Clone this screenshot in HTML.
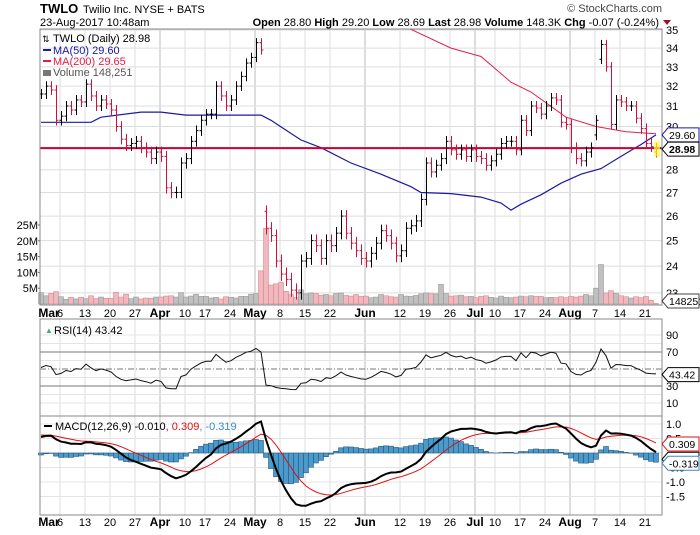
<!DOCTYPE html>
<html><head><meta charset="utf-8"><style>
body{margin:0;background:#fff;width:700px;height:530px;overflow:hidden;font-family:"Liberation Sans",sans-serif}
svg text{font-family:"Liberation Sans",sans-serif}
</style></head><body>
<svg id="c" width="700" height="530" xmlns="http://www.w3.org/2000/svg"></svg>
<script>
// ---- data ----
const closes=[31.6,32.0,31.8,30.3,30.5,31.0,30.8,31.3,31.2,32.1,
31.5,31.0,31.3,31.1,30.8,30.0,29.4,29.1,29.2,29.3,
29.0,28.8,28.5,28.8,28.6,27.2,27.0,27.0,28.3,28.5,
29.3,29.8,30.3,30.6,30.6,32.0,31.5,31.0,31.3,32.0,
32.5,33.2,33.5,34.3,33.9,25.5,25.2,24.2,23.7,23.5,
23.1,23.0,24.2,24.3,25.0,24.8,24.3,25.0,24.8,25.3,
26.0,25.3,24.9,24.6,24.3,24.2,24.5,24.9,25.4,25.2,
24.9,24.4,24.6,25.5,25.6,25.8,26.7,28.3,27.9,28.2,
28.5,29.3,28.9,28.7,28.9,28.6,28.9,28.6,28.5,28.2,
28.4,28.7,29.2,29.3,29.3,28.9,30.3,29.8,31.0,30.9,
30.6,31.0,31.4,31.3,30.2,30.1,29.0,28.5,28.4,28.8,
29.0,30.3,34.2,33.0,30.1,31.3,31.2,31.0,31.0,30.4,
29.9,29.2,29.05,28.98];
const gapOpens={45:26.2,111:29.6,112:33.4,123:28.80};
const volumes=[3.6,2.6,3.3,3.9,2.3,1.5,2.1,1.6,2.1,1.7,
2.6,1.7,2.2,1.8,1.8,3.7,2.2,3.1,1.7,2.2,
1.6,1.9,1.8,2.2,2.2,2.5,2.6,2.2,3.6,2.2,
2.5,3.1,2.4,2.4,1.9,2.1,1.6,2.3,2.1,1.9,
2.4,2.4,3.1,3.3,10.5,24.0,6.0,6.4,6.8,4.0,
3.0,2.0,4.5,3.2,3.5,3.3,2.8,3.0,2.6,3.3,
3.5,2.7,2.5,3.0,2.4,2.5,2.0,2.2,3.0,2.6,
2.3,2.2,3.0,2.5,2.4,2.7,3.2,3.5,3.3,3.2,
6.2,3.3,2.5,2.6,2.8,2.3,2.4,2.0,2.4,2.6,
2.1,1.9,2.5,2.1,2.0,2.2,2.5,2.3,2.6,2.4,
2.4,2.0,2.1,2.0,2.3,2.0,2.4,2.2,2.5,3.0,
2.6,5.0,12.5,3.5,4.2,3.4,2.6,2.3,1.9,2.3,
2.0,2.4,1.2,0.15];
const ma50Idx=[0,10,12,20,24,29,38,44,46,52,56,62,68,74,76,82,88,92,94,96,100,104,108,112,116,120,123];
const ma50Val=[30.2,30.2,30.45,30.7,30.7,30.55,30.55,30.55,30.3,29.36,29.0,28.3,27.8,27.25,27.0,26.95,26.8,26.55,26.25,26.5,26.9,27.4,27.8,28.05,28.6,29.15,29.6];
const ma200Idx=[72,82,88,94,98,105,111,117,123];
const ma200Val=[35.3,34.0,33.55,32.2,31.7,30.45,30.0,29.75,29.65];
const priceTicks=[35,34,33,32,31,30,28,27,26,25,24,23];
const volTicks=[25,20,15,10,5];
const rsiTicks=[90,70,30,10];
const macdTicks=[1.0,0.5,-0.5,-1.0,-1.5];
const axisLabels=[[0.6,'Mar',1],[4,'6',0],[9,'13',0],[14,'20',0],[19,'27',0],[24,'Apr',1],[29,'10',0],[33,'17',0],[38,'24',0],[43,'May',1],[48,'8',0],[53,'15',0],[58,'22',0],[65,'Jun',1],[72,'12',0],[77,'19',0],[82,'26',0],[87,'Jul',1],[91,'10',0],[96,'17',0],[101,'24',0],[106,'Aug',1],[111,'7',0],[116,'14',0],[121,'21',0]];

// ---- scales ----
const L=40,R=662;
const X=i=>41+5*i;
const PY=p=>30+(Math.log(35)-Math.log(p))*626;
const VY=v=>304-v*3.16;
const RY=r=>369-(r-50)*0.85;
const MY=m=>453-m*29;
const svg=document.getElementById('c');
const NS='http://www.w3.org/2000/svg';
function el(tag,attrs,parent){const e=document.createElementNS(NS,tag);for(const k in attrs)e.setAttribute(k,attrs[k]);(parent||svg).appendChild(e);return e;}
function txt(x,y,s,attrs,parent){const t=el('text',Object.assign({x:x,y:y,'font-size':11,fill:'#000'},attrs||{}),parent);t.textContent=s;return t;}

const defs=el('defs',{});
const cp=el('clipPath',{id:'mainclip'},defs);
el('rect',{x:L,y:29,width:R-L,height:276},cp);

// ---- grids ----
const grid=el('g',{});


[[29,305],[319,416],[416,515]].forEach(([t,b])=>{
  axisLabels.forEach(a=>{ if(a[0]<1)return; el('line',{x1:X(a[0])-1,x2:X(a[0])-1,y1:t,y2:b,stroke:a[2]?'#bbb':'#ddd','stroke-width':1},grid);});
});
priceTicks.concat([29]).forEach(p=>el('line',{x1:L,x2:R,y1:PY(p),y2:PY(p),stroke:'#ddd'},grid));
[90,80,60,40,20,10].forEach(r=>el('line',{x1:L,x2:R,y1:RY(r),y2:RY(r),stroke:'#e4e4e4'},grid));
[1.0,0.5,0,-0.5,-1.0,-1.5].forEach(m=>el('line',{x1:L,x2:R,y1:MY(m),y2:MY(m),stroke:'#e4e4e4'},grid));

// ---- header ----
const hdr=el('g',{});


txt(40,13,'TWLO',{'font-size':13,'font-weight':'bold'},hdr);
txt(83,13,'Twilio Inc. NYSE + BATS',{'font-size':11},hdr);
txt(40,26,'23-Aug-2017 10:48am',{'font-size':11},hdr);
const info=txt(659,26,'',{'font-size':11,'text-anchor':'end'},hdr);
info.innerHTML='<tspan font-weight="bold">Open</tspan> 28.80 <tspan font-weight="bold">High</tspan> 29.20 <tspan font-weight="bold">Low</tspan> 28.69 <tspan font-weight="bold">Last</tspan> 28.98 <tspan font-weight="bold">Volume</tspan> 148.3K <tspan font-weight="bold">Chg</tspan> -0.07 (-0.24%)';
el('path',{d:'M663,20 L671,20 L667,25 Z',fill:'#a0102a'},hdr);
txt(662,12,'© StockCharts.com',{'font-size':11,'text-anchor':'end',fill:'#444'},hdr);

// ---- volume ----
const vg=el('g',{});


volumes.forEach((v,i)=>{
  const down=i>0&&closes[i]<closes[i-1];
  const r=el('rect',{x:X(i)-2.5,y:VY(v),width:5,height:304-VY(v),fill:down?'#f0b8c0':'#c0c0c0',stroke:down?'#d88':'#999','stroke-width':0.6},vg);
  
  
});
volTicks.forEach(v=>{txt(38,VY(v)+4,v+'M',{'text-anchor':'end','font-size':11});el('line',{x1:38,x2:L,y1:VY(v),y2:VY(v),stroke:'#666'});});

// ---- MAs ----
function maPath(idx,val){return idx.map((k,j)=>(j?'L':'M')+X(k)+','+PY(val[j]).toFixed(1)).join(' ');}
const m200=el('path',{d:maPath(ma200Idx,ma200Val),fill:'none',stroke:'#e0204a','stroke-width':1,'clip-path':'url(#mainclip)'});


const m50=el('path',{d:maPath(ma50Idx,ma50Val),fill:'none',stroke:'#1a1aa0','stroke-width':1.2});



const lp=el('line',{x1:L,x2:R,y1:PY(closes[closes.length-1]),y2:PY(closes[closes.length-1]),stroke:'#cc0033','stroke-width':2});



// ---- price bars ----
const pg=el('g',{});


closes.forEach((c,i)=>{
  const o=(i in gapOpens)?gapOpens[i]:(i>0?closes[i-1]:c);
  const hi=Math.max(o,c)+0.25, lo=Math.min(o,c)-0.25;
  const down=i>0&&c<closes[i-1];
  const col=down?'#d0103a':'#000';
  const g=el('g',{stroke:col,'stroke-width':1},pg);
  
  
  const x=X(i)+0.5;
  el('line',{x1:x,x2:x,y1:PY(hi),y2:PY(lo)},g);
  el('line',{x1:x-2,x2:x,y1:PY(o),y2:PY(o)},g);
  el('line',{x1:x,x2:x+2,y1:PY(c),y2:PY(c)},g);
});
el('rect',{x:X(123)-2,y:PY(29.3),width:6,height:PY(28.6)-PY(29.3),fill:'#ffff33',opacity:0.7});

priceTicks.forEach(p=>txt(666,PY(p)+4,String(p),{'font-size':11}));

// legend
const lg=el('g',{});


txt(53,42,'TWLO (Daily) 28.98',{'font-size':11},lg);
txt(42,42,'⇅',{'font-size':9},lg);
el('line',{x1:43,x2:51,y1:50,y2:50,stroke:'#1a1aa0','stroke-width':2},lg);
txt(53,54,'MA(50) 29.60',{fill:'#1a1aa0'},lg);
el('line',{x1:43,x2:51,y1:61,y2:61,stroke:'#e0204a','stroke-width':2},lg);
txt(53,65,'MA(200) 29.65',{fill:'#e0204a'},lg);
el('rect',{x:43,y:70,width:8,height:6,fill:'#777'},lg);
txt(53,76,'Volume 148,251',{fill:'#555'},lg);

// ---- RSI ----
let ag=0.30,al=0.28;const rsi=[];
closes.forEach((c,i)=>{
  if(i>0){const d=c-closes[i-1];ag=(ag*13+Math.max(d,0))/14;al=(al*13+Math.max(-d,0))/14;}
  rsi.push(100-100/(1+ag/al));
});
el('line',{x1:L,x2:R,y1:RY(70),y2:RY(70),stroke:'#777'});
el('line',{x1:L,x2:R,y1:RY(30),y2:RY(30),stroke:'#777'});
el('line',{x1:L,x2:R,y1:RY(50),y2:RY(50),stroke:'#777','stroke-dasharray':'6,2,1,2'});
const rl=el('path',{d:rsi.map((r,i)=>(i?'L':'M')+X(i)+','+RY(r).toFixed(1)).join(' '),fill:'none',stroke:'#111','stroke-width':1});


rsiTicks.forEach(r=>txt(666,RY(r)+4,String(r)));
txt(45,333,'▲',{'font-size':8,fill:'#4a7'});
txt(54,334,'RSI(14) 43.42');

// ---- MACD ----
let e12=31.0,e26=30.45,sig=0.62;const macd=[],signal=[],hist=[];
closes.forEach((c,i)=>{
  if(i>0){e12+=(c-e12)*2/13;e26+=(c-e26)*2/27;}
  const m=e12-e26; if(i>0)sig+=(m-sig)*2/10;
  macd.push(m);signal.push(sig);hist.push(m-sig);
});
const hg=el('g',{});


hist.forEach((h,i)=>{
  const r=el('rect',{x:X(i)-2.5,y:Math.min(MY(h),MY(0)),width:5,height:Math.abs(MY(h)-MY(0)),fill:'#4a9acb',stroke:'#2a5a80','stroke-width':0.6},hg);
  
  
});
const sl=el('path',{d:signal.map((m,i)=>(i?'L':'M')+X(i)+','+MY(m).toFixed(1)).join(' '),fill:'none',stroke:'#e01010','stroke-width':1});


const ml=el('path',{d:macd.map((m,i)=>(i?'L':'M')+X(i)+','+MY(m).toFixed(1)).join(' '),fill:'none',stroke:'#000','stroke-width':2});


macdTicks.forEach(m=>txt(666,MY(m)+4,m.toFixed(1)));
el('line',{x1:44,x2:52,y1:426,y2:426,stroke:'#000','stroke-width':2});
const mt=txt(55,430,'');
mt.innerHTML='MACD(12,26,9) -0.010<tspan fill="#e01010">, 0.309</tspan><tspan fill="#3a8ac0">, -0.319</tspan>';

// ---- panel borders ----
[[29,305],[319,416],[416,515]].forEach(([t,b])=>el('rect',{x:L,y:t,width:R-L,height:b-t,fill:'none',stroke:'#888'}));

[312,521].forEach(y=>axisLabels.forEach(a=>{
  txt(a[0]<1?49:X(a[0])-1,y+5,a[1],{'text-anchor':'middle','font-size':a[2]?12:11,'font-weight':a[2]?'bold':'normal'});
}));

// value tags
function tag(y,s,col,bold){
  const g=el('g',{});
  
  
  el('path',{d:`M662,${y} L668,${y-7} L699,${y-7} L699,${y+7} L668,${y+7} Z`,fill:'#fff',stroke:col},g);
  txt(669,y+4,s,{fill:'#000','font-size':10.5,'font-weight':bold?'bold':'normal'},g);
}
tag(PY(29.6),'29.60','#1a1aa0');
tag(PY(28.98)+1,'28.98','#000',true);
tag(301,'148251','#444');
tag(RY(43.42),'43.42','#000');
tag(MY(0.309),'0.309','#e01010');
tag(MY(-0.010)+6,'-0.010','#000');
tag(MY(-0.319)+1,'-0.319','#3a8ac0');
</script>
</body></html>
